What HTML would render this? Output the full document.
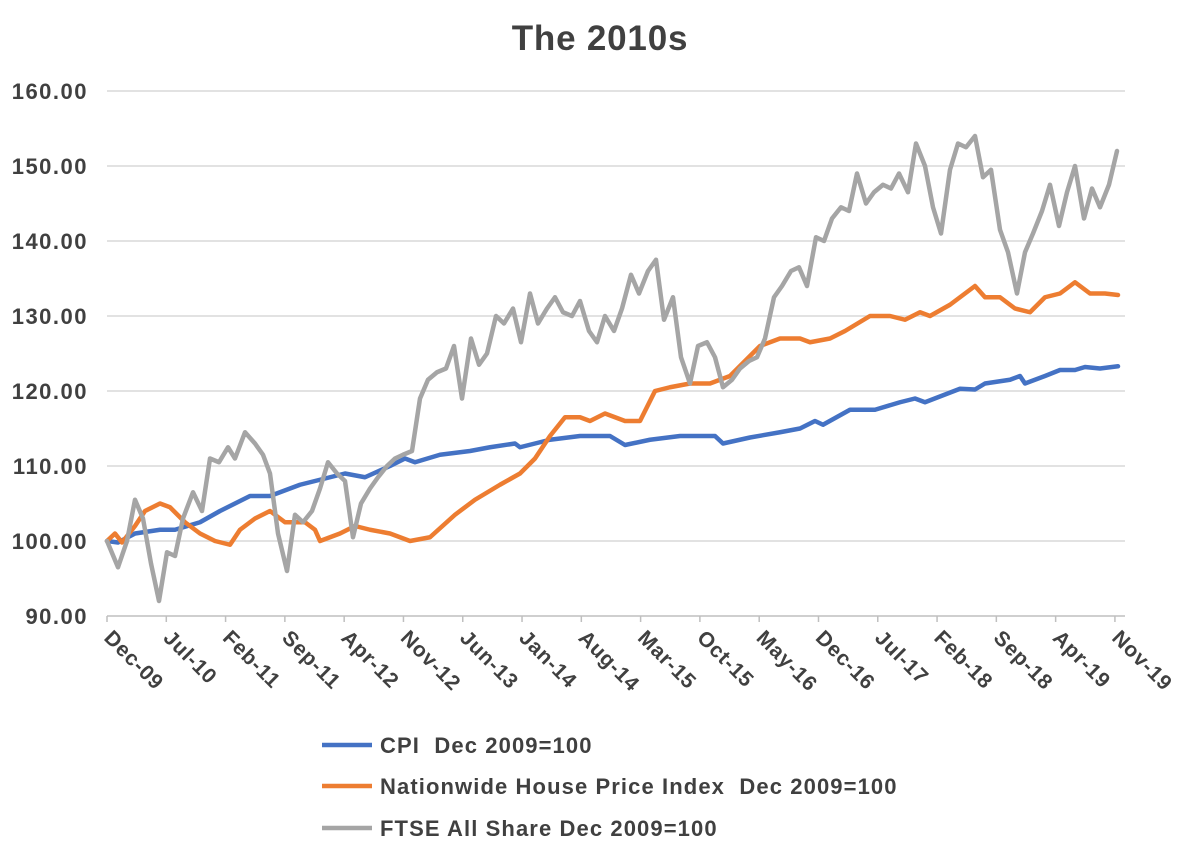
<!DOCTYPE html>
<html><head><meta charset="utf-8"><style>
html,body{margin:0;padding:0;background:#fff;}
svg{display:block;font-family:"Liberation Sans",Arial,sans-serif;}
</style></head><body>
<svg id="c" width="1200" height="861" xmlns="http://www.w3.org/2000/svg">
<text x="600" y="50" text-anchor="middle" font-size="35" font-weight="bold" fill="#404040" letter-spacing="0.8">The 2010s</text>
<g id="grid"></g>
<g id="series" fill="none" stroke-width="4.5" stroke-linejoin="round" stroke-linecap="round"></g>
<g id="xl" font-size="21" font-weight="bold" fill="#404040" letter-spacing="0.8"></g>
<g font-size="22" font-weight="bold" fill="#404040" letter-spacing="1.1">
<line x1="322" y1="745" x2="372" y2="745" stroke="#4472C4" stroke-width="4.5"/>
<text x="380" y="753" xml:space="preserve">CPI  Dec 2009=100</text>
<line x1="322" y1="786" x2="372" y2="786" stroke="#ED7D31" stroke-width="4.5"/>
<text x="380" y="794" xml:space="preserve">Nationwide House Price Index  Dec 2009=100</text>
<line x1="322" y1="828" x2="372" y2="828" stroke="#A5A5A5" stroke-width="4.5"/>
<text x="380" y="836">FTSE All Share Dec 2009=100</text>
</g>
</svg>
<script>
var NS="http://www.w3.org/2000/svg";
function Y(v){return 541-(v-100)*7.5;}
function el(t,a,p,txt){var e=document.createElementNS(NS,t);for(var k in a)e.setAttribute(k,a[k]);if(txt)e.textContent=txt;p.appendChild(e);return e;}
var g=document.getElementById('grid');
for(var v=90;v<=160;v+=10){var y=Y(v);
 el('line',{x1:107,x2:1125,y1:y,y2:y,stroke:v==90?'#bfbfbf':'#d9d9d9','stroke-width':1.5},g);
 el('text',{x:88,y:y+8,'text-anchor':'end','font-size':22,'font-weight':'bold',fill:'#404040','letter-spacing':1.5},g,v.toFixed(2));}
var labs=["Dec-09","Jul-10","Feb-11","Sep-11","Apr-12","Nov-12","Jun-13","Jan-14","Aug-14","Mar-15","Oct-15","May-16","Dec-16","Jul-17","Feb-18","Sep-18","Apr-19","Nov-19"];
var xl=document.getElementById('xl');
labs.forEach(function(l,i){var x=107+i*7*8.47;
 el('line',{x1:x,x2:x,y1:616,y2:622,stroke:'#bfbfbf','stroke-width':1.5},g);
 el('text',{x:0,y:0,transform:'translate('+(x-4)+',639) rotate(45)'},xl,l);});
function P(arr,col){var d='';for(var i=0;i<arr.length;i+=2)d+=(i?'L':'M')+arr[i]+','+Y(arr[i+1]);
 el('path',{d:d,stroke:col},document.getElementById('series'));}
var gray=[107,100,118,96.5,127,100,135,105.5,143,103,151,97,159,92,167,98.5,175,98,183,103,193,106.5,202,104,210,111,219,110.5,228,112.5,235,111,245,114.5,255,113,263,111.5,270,109,278,101,287,96,295,103.5,303,102.5,312,104,320,107,328,110.5,337,109,345,108,353,100.5,361,105,370,107,378,108.5,387,110,395,111,403,111.5,412,112,420,119,428,121.5,437,122.5,446,123,454,126,462,119,471,127,479,123.5,487,125,496,130,504,129,513,131,521,126.5,530,133,538,129,547,131,555,132.5,563,130.5,572,130,580,132,589,128,597,126.5,605,130,614,128,622,131,631,135.5,639,133,648,136,656,137.5,664,129.5,673,132.5,681,124.5,690,121,698,126,707,126.5,715,124.5,723,120.5,732,121.5,740,123,749,124,757,124.5,765,127,774,132.5,782,134,791,136,799,136.5,807,134,816,140.5,824,140,832,143,841,144.5,849,144,857,149,866,145,874,146.5,883,147.5,891,147,899,149,908,146.5,916,153,925,150,933,144.5,941,141,950,149.5,958,153,966,152.5,975,154,983,148.5,991,149.5,1000,141.5,1008,138.5,1017,133,1025,138.5,1033,141,1042,144,1050,147.5,1059,142,1067,146.5,1075,150,1084,143,1092,147,1100,144.5,1109,147.5,1117,152];
var blue=[107,100,118,99.8,135,101,160,101.5,175,101.5,200,102.5,220,104,250,106,270,106,300,107.5,330,108.5,345,109,365,108.5,390,110,405,111,415,110.5,440,111.5,470,112,490,112.5,515,113,520,112.5,550,113.5,580,114,610,114,625,112.8,650,113.5,680,114,700,114,715,114,723,113,750,113.8,780,114.5,800,115,815,116,823,115.5,850,117.5,875,117.5,900,118.5,915,119,925,118.5,960,120.3,975,120.2,985,121,1010,121.5,1020,122,1025,121,1045,122,1060,122.8,1075,122.8,1085,123.2,1100,123,1118,123.3];
var orange=[107,100,115,101,122,99.8,135,102,145,104,160,105,170,104.5,185,102.5,200,101,215,100,230,99.5,240,101.5,255,103,270,104,285,102.5,305,102.5,315,101.5,320,100,340,101,355,102,370,101.5,390,101,410,100,430,100.5,455,103.5,475,105.5,500,107.5,520,109,535,111,550,114,565,116.5,580,116.5,590,116,605,117,625,116,640,116,655,120,670,120.5,690,121,710,121,730,122,745,124,760,126,780,127,800,127,810,126.5,830,127,845,128,870,130,890,130,905,129.5,920,130.5,930,130,950,131.5,975,134,985,132.5,1000,132.5,1015,131,1030,130.5,1045,132.5,1060,133,1075,134.5,1090,133,1105,133,1118,132.8];
P(blue,'#4472C4');P(orange,'#ED7D31');P(gray,'#A5A5A5');
</script>
</body></html>
